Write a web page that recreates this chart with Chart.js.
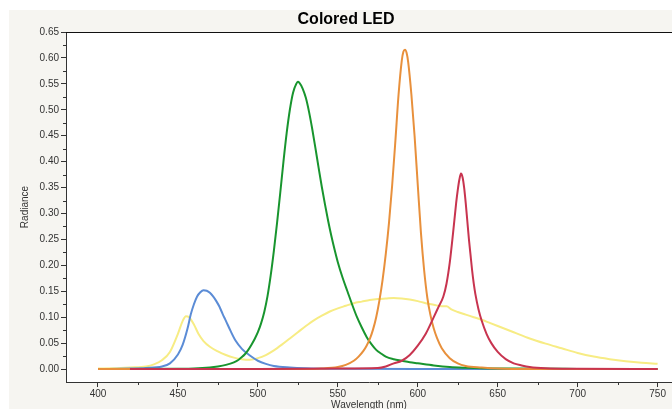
<!DOCTYPE html>
<html>
<head>
<meta charset="utf-8">
<script src="https://cdn.jsdelivr.net/npm/chart.js@4.4.1/dist/chart.umd.min.js"></script>
<style>
html,body{margin:0;padding:0;background:#ffffff;overflow:hidden;}
#c{display:block;}
</style>
</head>
<body>
<canvas id="c" width="672" height="409"></canvas>
<script>
const titleText = "Colored LED";
const xTitle = "Wavelength (nm)";
const yTitle = "Radiance";
const xMajorTicks = [400,450,500,550,600,650,700,750];
const xMinorTicks = [425,475,525,575,625,675,725];
const yMajorTicks = [0,0.05,0.10,0.15,0.20,0.25,0.30,0.35,0.40,0.45,0.50,0.55,0.60,0.65];
const yMinorTicks = [0.025,0.075,0.125,0.175,0.225,0.275,0.325,0.375,0.425,0.475,0.525,0.575,0.625];

const yellowNm = [400,410,420,430,435,440,445,450,453,455,457,460,463,466,470,475,480,485,490,495,500,505,510,515,520,525,530,535,540,545,550,555,560,565,570,575,580,585,590,595,600,605,610,615,618,621,625,630,635,640,645,650,660,670,680,690,700,710,720,730,740,750];
const yellowVal = [0.001,0.0015,0.003,0.005,0.009,0.017,0.033,0.068,0.093,0.102,0.1,0.086,0.067,0.054,0.043,0.034,0.027,0.022,0.019,0.018,0.021,0.027,0.036,0.047,0.059,0.071,0.083,0.094,0.103,0.111,0.117,0.122,0.127,0.130,0.133,0.135,0.136,0.137,0.136,0.134,0.131,0.127,0.124,0.121,0.121,0.115,0.110,0.105,0.100,0.095,0.089,0.083,0.071,0.059,0.049,0.040,0.031,0.024,0.019,0.015,0.012,0.010];

const blueNm = [400,420,430,440,445,450,453,456,458,460,462,464,466,468,470,472,474,476,478,480,483,486,490,495,500,505,510,520,530,550,600,750];
const blueVal = [0,0.001,0.002,0.005,0.011,0.028,0.047,0.078,0.105,0.125,0.14,0.148,0.152,0.151,0.147,0.14,0.131,0.12,0.106,0.093,0.073,0.055,0.039,0.026,0.016,0.01,0.006,0.003,0.0015,0.0005,0,0];

const greenNm = [400,450,460,470,475,480,485,488,490,492,494,496,498,500,502,504,506,508,510,512,514,516,518,520,522,524,525,526,528,530,532,534,536,538,540,542,544,546,548,550,553,556,559,562,565,568,571,574,577,580,585,590,595,600,610,620,630,640,660,700,750];
const greenVal = [0,0.0005,0.001,0.003,0.005,0.008,0.013,0.018,0.023,0.029,0.037,0.047,0.058,0.071,0.088,0.11,0.14,0.18,0.228,0.282,0.34,0.4,0.455,0.5,0.533,0.55,0.554,0.552,0.541,0.523,0.496,0.463,0.426,0.388,0.351,0.317,0.285,0.256,0.23,0.206,0.176,0.15,0.124,0.1,0.08,0.062,0.048,0.037,0.03,0.024,0.019,0.016,0.013,0.011,0.007,0.004,0.0025,0.0015,0.0008,0.0003,0];

const orangeNm = [400,530,540,550,555,560,563,566,568,570,572,574,576,578,580,582,584,586,588,590,591,592,593,594,596,598,600,602,604,606,608,610,612,615,620,625,630,640,650,670,750];
const orangeVal = [0,0,0.001,0.004,0.008,0.016,0.024,0.035,0.045,0.058,0.076,0.1,0.132,0.172,0.222,0.282,0.355,0.44,0.53,0.595,0.612,0.616,0.61,0.592,0.53,0.45,0.355,0.262,0.19,0.137,0.103,0.078,0.06,0.04,0.021,0.011,0.006,0.003,0.001,0,0];

const redNm = [420,500,550,575,580,585,590,595,600,605,610,613,616,618,620,622,624,625,626,627,628,629,630,631,632,633,634,635,636,638,640,643,646,650,655,660,665,670,680,700,750];
const redVal = [0,0,0.001,0.002,0.005,0.011,0.016,0.027,0.045,0.068,0.1,0.12,0.14,0.165,0.205,0.26,0.32,0.345,0.365,0.377,0.37,0.35,0.32,0.285,0.25,0.22,0.19,0.165,0.145,0.115,0.093,0.068,0.05,0.033,0.019,0.011,0.007,0.004,0.0015,0.0005,0];

function pts(nm, val){ return nm.map((x,i)=>({x:x, y:val[i]})); }

function ds(label, nm, val, color){
  return {label:label, data:pts(nm,val), borderColor:color, backgroundColor:color,
    borderWidth:2, pointRadius:0, fill:false, cubicInterpolationMode:'monotone', tension:0.4};
}

const decorPlugin = {
  id:'decor',
  beforeDraw(chart){
    const ctx = chart.ctx, a = chart.chartArea;
    ctx.save();
    ctx.fillStyle = '#ffffff';
    ctx.fillRect(0,0,chart.width,chart.height);
    ctx.fillStyle = '#f6f5f1';
    ctx.fillRect(9,10,chart.width-9,chart.height-10);
    ctx.fillStyle = '#ffffff';
    ctx.fillRect(a.left,a.top,a.right-a.left,a.bottom-a.top);
    ctx.restore();
  },
  afterDraw(chart){
    const ctx = chart.ctx, a = chart.chartArea;
    const xs = chart.scales.x, ys = chart.scales.y;
    ctx.save();
    ctx.strokeStyle = '#111111';
    ctx.lineWidth = 1;
    ctx.beginPath();
    ctx.moveTo(a.left, a.top+0.5);
    ctx.lineTo(a.right, a.top+0.5);
    ctx.stroke();
    ctx.strokeStyle = '#333333';
    ctx.beginPath();
    xMinorTicks.forEach(v=>{
      const px = Math.round(xs.getPixelForValue(v))+0.5;
      ctx.moveTo(px, a.bottom);
      ctx.lineTo(px, a.bottom+3);
    });
    yMinorTicks.forEach(v=>{
      const py = Math.round(ys.getPixelForValue(v))+0.5;
      ctx.moveTo(a.left-3, py);
      ctx.lineTo(a.left, py);
    });
    ctx.stroke();
    ctx.fillStyle = '#000000';
    ctx.font = 'bold 16px "Liberation Sans", Arial, sans-serif';
    ctx.textAlign = 'center';
    ctx.textBaseline = 'middle';
    ctx.fillText(titleText, 346, 20);
    ctx.restore();
  }
};

new Chart(document.getElementById('c'), {
  type:'line',
  data:{
    datasets:[
      ds('Red', redNm, redVal, '#c8344f'),
      ds('Orange', orangeNm, orangeVal, '#e8903c'),
      ds('Green', greenNm, greenVal, '#18952e'),
      ds('Blue', blueNm, blueVal, '#5b8cd6'),
      ds('White', yellowNm, yellowVal, '#f7ec84')
    ]
  },
  options:{
    responsive:false,
    animation:false,
    devicePixelRatio:1,
    layout:{padding:{top:32,left:0,right:0,bottom:0}},
    plugins:{legend:{display:false}, title:{display:false}, tooltip:{enabled:false}},
    scales:{
      x:{
        type:'linear', min:380, max:759,
        afterBuildTicks(s){ s.ticks = xMajorTicks.map(v=>({value:v})); },
        afterFit(s){ s.height = 27; },
        grid:{drawOnChartArea:false, drawTicks:true, tickLength:5, tickColor:'#333333'},
        border:{display:true, color:'#333333', width:1},
        ticks:{color:'#333333', padding:1, maxRotation:0, autoSkip:false,
          font:{family:'"Liberation Sans", Arial, sans-serif', size:10},
          callback:(v)=>String(v)},
        title:{display:true, text:xTitle, color:'#333333', padding:{top:0,bottom:0},
          font:{family:'"Liberation Sans", Arial, sans-serif', size:10, lineHeight:0.8}}
      },
      y:{
        type:'linear', min:-0.025, max:0.65,
        afterBuildTicks(s){ s.ticks = yMajorTicks.map(v=>({value:v})); },
        afterFit(s){ s.width = 66; },
        grid:{drawOnChartArea:false, drawTicks:true, tickLength:5, tickColor:'#333333'},
        border:{display:true, color:'#333333', width:1},
        ticks:{color:'#333333', padding:2, autoSkip:false,
          font:{family:'"Liberation Sans", Arial, sans-serif', size:10},
          callback:(v)=>Number(v).toFixed(2)},
        title:{display:true, text:yTitle, color:'#333333', padding:{top:19,bottom:0},
          font:{family:'"Liberation Sans", Arial, sans-serif', size:10, lineHeight:1.2}}
      }
    }
  },
  plugins:[decorPlugin]
});
</script>
</body>
</html>
